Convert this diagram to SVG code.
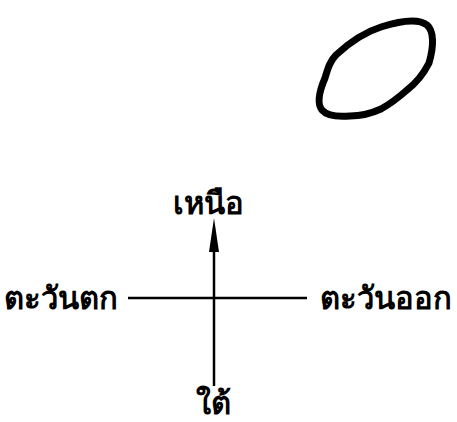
<svg xmlns="http://www.w3.org/2000/svg" width="457" height="422" viewBox="0 0 457 422">
<style>
.t{font-family:"Noto Sans","DejaVu Sans",sans-serif;font-weight:bold;font-size:31px;fill:#000}
.ln{stroke:#000;stroke-width:2.5;fill:none}
</style>
<rect width="457" height="422" fill="#fff"/>
<g id="oval">
<path d="M336,55 C350,42 365,32 381,27 C400,21 418,18 427,25 C434,31 434,46 429,63 C423,75 416,83 407,90 C398,98 390,104 381,109 C370,114 360,116 350,116 C338,117 327,116 322,110 C317,104 319,92 325,78 C328,68 330,61 336,55 Z" fill="none" stroke="#000" stroke-width="7" stroke-linejoin="round"/>
</g>
<g id="connectors">
<line class="ln" x1="214" y1="240" x2="214" y2="386"/>
<polygon points="214,218 209,252 219,252" fill="#000"/>
<line class="ln" x1="128" y1="298" x2="307" y2="298"/>
</g>
<g id="north"><text class="t" x="208" y="214" text-anchor="middle">เหนือ</text></g>
<g id="west"><text class="t" x="4" y="309">ตะวันตก</text></g>
<g id="east"><text class="t" x="320" y="309">ตะวันออก</text></g>
<g id="south"><text class="t" x="213" y="414" text-anchor="middle">ใต้</text></g>
</svg>
